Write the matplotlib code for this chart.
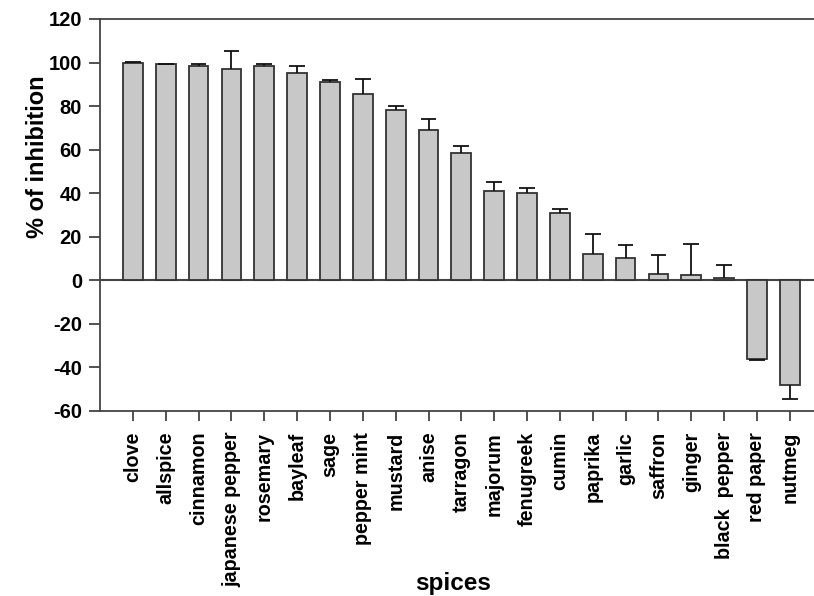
import numpy as np
import matplotlib
matplotlib.use('Agg')
import matplotlib.pyplot as plt

plt.rcParams['font.family'] = ['Liberation Sans', 'DejaVu Sans']
plt.rcParams['font.weight'] = 'bold'
plt.rcParams['axes.unicode_minus'] = False

spices = ['clove', 'allspice', 'cinnamon', 'japanese pepper', 'rosemary',
          'bayleaf', 'sage', 'pepper mint', 'mustard', 'anise', 'tarragon',
          'majorum', 'fenugreek', 'cumin', 'paprika', 'garlic', 'saffron',
          'ginger', 'black  pepper', 'red paper', 'nutmeg']
inhibition = [99.8, 99.2, 98.3, 97.2, 98.3, 95.2, 90.9, 85.7, 78.1, 69.2, 58.5,
              40.9, 40.0, 30.8, 12.1, 10.3, 2.9, 2.4, 1.1, -36.1, -47.9]
sd = [0.3, 0.2, 1.0, 8.0, 1.0, 3.0, 0.9, 6.6, 1.8, 5.0, 3.0,
      4.4, 2.3, 1.8, 9.3, 5.8, 8.6, 14.1, 5.8, 0.3, 6.6]
yticks = [-60, -40, -20, 0, 20, 40, 60, 80, 100, 120]

x = np.arange(len(spices))
vals = np.array(inhibition)
err = np.array(sd)
tips = vals + np.sign(vals) * err

fig = plt.figure(figsize=(8.14, 5.96), dpi=100)
# axes runs past the right edge so its right frame line is cut off
ax = fig.add_axes([100 / 814, 185 / 596, 722.7 / 814, 392 / 596])

dark = '#333333'
ax.bar(x, vals, width=0.6, color='#c8c8c8', edgecolor=dark, linewidth=1.3, zorder=2)

# one-sided error bars with caps
cap = 0.24
ax.vlines(x, vals, tips, color='#111111', linewidth=1.3, zorder=3)
ax.hlines(tips, x - cap, x + cap, color='#111111', linewidth=1.3, zorder=3)

ax.axhline(0, color='#444444', linewidth=1.5, zorder=1)

ax.set_xlim(-1, 21)
ax.set_ylim(-60, 120)
ax.set_yticks(yticks)
ax.set_xticks(x)
ax.set_xticklabels(spices, rotation=90, fontsize=14.2, fontweight='bold')
ax.set_yticklabels([str(t) for t in yticks], fontsize=14.5, fontweight='bold')
ax.tick_params(axis='y', length=8, width=1.2, pad=5, color=dark)
ax.tick_params(axis='x', length=7, width=1.2, pad=8, color=dark)

for s in ax.spines.values():
    s.set_color('#444444')
    s.set_linewidth(1.3)

fig.text(38 / 814, (596 - 157) / 596, '% of inhibition', rotation=90,
         ha='center', va='center', fontsize=17, fontweight='bold')
fig.text(453 / 814, 6 / 596, 'spices', ha='center', va='baseline',
         fontsize=17.5, fontweight='bold')

plt.savefig('out.png', dpi=100)
